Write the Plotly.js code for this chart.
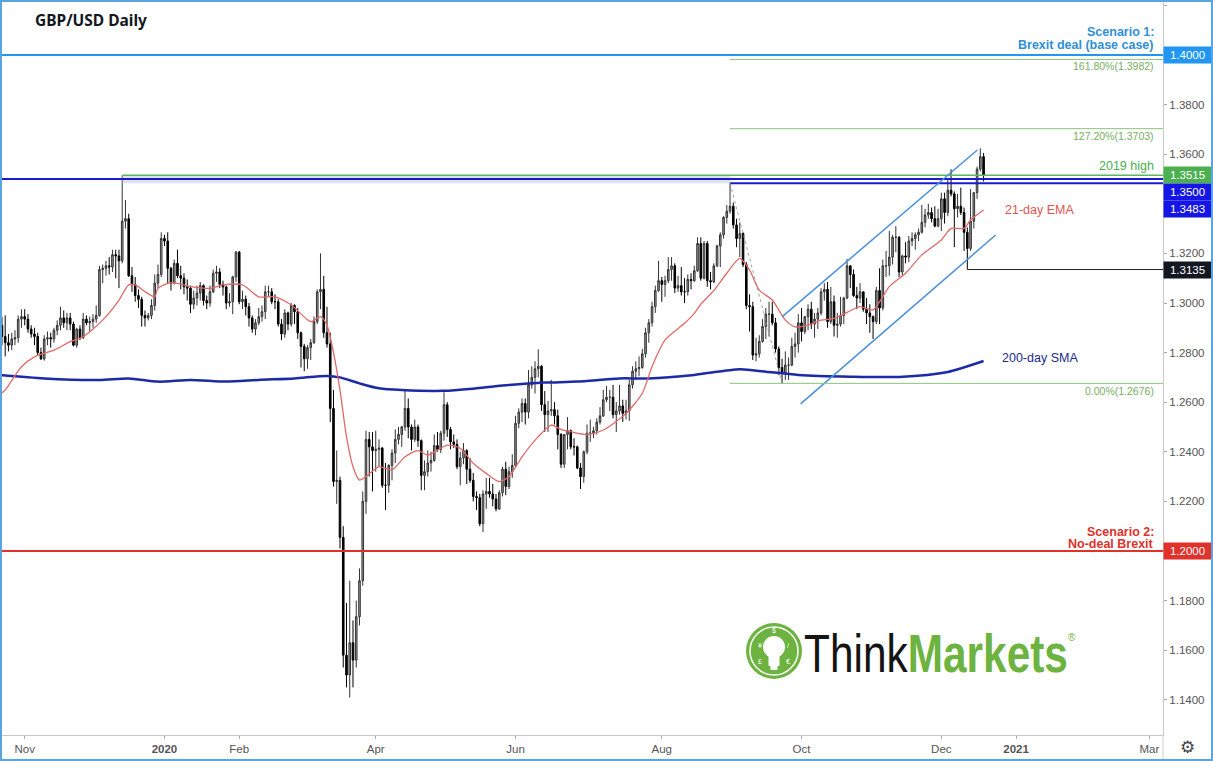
<!DOCTYPE html>
<html><head><meta charset="utf-8">
<script src="https://cdn.plot.ly/plotly-3.0.1.min.js"></script>
<style>
html,body{margin:0;padding:0;background:#fff;overflow:hidden}
#chart{width:1213px;height:761px;position:relative}
#frame{position:absolute;left:0;top:0;width:1213px;height:761px;box-sizing:border-box;border:2px solid #5aa4e0;pointer-events:none}
</style></head><body>
<div id="chart"></div><div id="frame"></div>
<script>
// ---- Daily candles: [day, open, high, low, close] ----
const oct2019=[[23,1.2910,1.2945,1.2830,1.2865],[24,1.2865,1.2950,1.2785,1.2840],[25,1.2840,1.2875,1.2805,1.2830],[28,1.2830,1.2880,1.2810,1.2855],[29,1.2855,1.2890,1.2830,1.2860],[30,1.2860,1.2950,1.2840,1.2935],[31,1.2935,1.2975,1.2900,1.2945]];
const nov2019=[[1,1.2945,1.2975,1.2910,1.2935],[4,1.2935,1.2955,1.2880,1.2895],[5,1.2895,1.2910,1.2860,1.2875],[6,1.2875,1.2900,1.2830,1.2865],[7,1.2865,1.2880,1.2790,1.2800],[8,1.2800,1.2820,1.2770,1.2775],[11,1.2775,1.2870,1.2768,1.2855],[12,1.2855,1.2885,1.2830,1.2860],[13,1.2860,1.2880,1.2820,1.2855],[14,1.2855,1.2900,1.2840,1.2890],[15,1.2890,1.2930,1.2870,1.2910],[18,1.2910,1.2985,1.2890,1.2940],[19,1.2940,1.2970,1.2900,1.2920],[20,1.2920,1.2960,1.2890,1.2940],[21,1.2940,1.2960,1.2890,1.2915],[22,1.2915,1.2925,1.2825,1.2830],[25,1.2830,1.2900,1.2820,1.2895],[26,1.2895,1.2910,1.2850,1.2860],[27,1.2860,1.2960,1.2855,1.2935],[28,1.2935,1.2950,1.2910,1.2920],[29,1.2920,1.2945,1.2885,1.2925]];
const dec2019=[[2,1.2925,1.2955,1.2900,1.2935],[3,1.2935,1.2990,1.2920,1.2950],[4,1.2950,1.3150,1.2945,1.3135],[5,1.3135,1.3155,1.3080,1.3140],[6,1.3140,1.3170,1.3110,1.3150],[9,1.3150,1.3185,1.3115,1.3145],[10,1.3145,1.3215,1.3125,1.3195],[11,1.3195,1.3215,1.3100,1.3190],[12,1.3190,1.3215,1.3060,1.3170],[13,1.3170,1.3515,1.3160,1.3330],[16,1.3330,1.3415,1.3300,1.3340],[17,1.3340,1.3360,1.3105,1.3110],[18,1.3110,1.3145,1.3045,1.3075],[19,1.3075,1.3105,1.3005,1.3030],[20,1.3030,1.3055,1.2980,1.3015],[23,1.3015,1.3025,1.2905,1.2950],[24,1.2950,1.2970,1.2905,1.2940],[25,1.2940,1.2960,1.2930,1.2950],[26,1.2950,1.3015,1.2935,1.2990],[27,1.2990,1.3115,1.2970,1.3080],[30,1.3080,1.3155,1.3060,1.3115],[31,1.3115,1.3285,1.3105,1.3260]];
const jan2020=[[1,1.3260,1.3275,1.3230,1.3250],[2,1.3250,1.3285,1.3080,1.3140],[3,1.3140,1.3145,1.3050,1.3080],[6,1.3080,1.3175,1.3075,1.3160],[7,1.3160,1.3215,1.3100,1.3110],[8,1.3110,1.3150,1.3055,1.3100],[9,1.3100,1.3120,1.3035,1.3065],[10,1.3065,1.3095,1.3010,1.3060],[13,1.3060,1.3070,1.2960,1.2995],[14,1.2995,1.3050,1.2975,1.3020],[15,1.3020,1.3070,1.2990,1.3040],[16,1.3040,1.3085,1.3010,1.3070],[17,1.3070,1.3075,1.2990,1.3010],[20,1.3010,1.3030,1.2975,1.3000],[21,1.3000,1.3070,1.2985,1.3045],[22,1.3045,1.3135,1.3040,1.3120],[23,1.3120,1.3150,1.3085,1.3125],[24,1.3125,1.3140,1.3060,1.3075],[27,1.3075,1.3090,1.3030,1.3065],[28,1.3065,1.3070,1.2975,1.3000],[29,1.3000,1.3040,1.2985,1.3005],[30,1.3005,1.3110,1.2955,1.3105],[31,1.3105,1.3210,1.3085,1.3205]];
const feb2020=[[3,1.3205,1.3210,1.2995,1.3005],[4,1.3005,1.3050,1.2975,1.3015],[5,1.3015,1.3030,1.2950,1.2985],[6,1.2985,1.3000,1.2905,1.2940],[7,1.2940,1.2950,1.2880,1.2895],[10,1.2895,1.2935,1.2870,1.2920],[11,1.2920,1.2980,1.2910,1.2945],[12,1.2945,1.2990,1.2925,1.2965],[13,1.2965,1.3070,1.2935,1.3045],[14,1.3045,1.3070,1.3025,1.3045],[17,1.3045,1.3060,1.2995,1.3005],[18,1.3005,1.3035,1.2975,1.3005],[19,1.3005,1.3015,1.2905,1.2915],[20,1.2915,1.2935,1.2850,1.2875],[21,1.2875,1.2975,1.2860,1.2960],[24,1.2960,1.2965,1.2890,1.2915],[25,1.2915,1.3000,1.2905,1.2990],[26,1.2990,1.2995,1.2915,1.2965],[27,1.2965,1.2980,1.2855,1.2880],[28,1.2880,1.2885,1.2740,1.2825]];
const mar2020=[[2,1.2825,1.2835,1.2725,1.2775],[3,1.2775,1.2830,1.2735,1.2820],[4,1.2820,1.2855,1.2770,1.2840],[5,1.2840,1.2945,1.2835,1.2925],[6,1.2925,1.3055,1.2915,1.3045],[9,1.3045,1.3200,1.2975,1.3055],[10,1.3055,1.3110,1.2860,1.2880],[11,1.2880,1.2985,1.2820,1.2835],[12,1.2835,1.2880,1.2520,1.2575],[13,1.2575,1.2650,1.2260,1.2280],[16,1.2280,1.2405,1.2190,1.2285],[17,1.2285,1.2300,1.2010,1.2055],[18,1.2055,1.2100,1.1530,1.1580],[19,1.1580,1.1790,1.1450,1.1500],[20,1.1500,1.1880,1.1409,1.1630],[23,1.1630,1.1720,1.1450,1.1560],[24,1.1560,1.1800,1.1530,1.1735],[25,1.1735,1.1930,1.1700,1.1880],[26,1.1880,1.2240,1.1860,1.2200],[27,1.2200,1.2485,1.2150,1.2450],[30,1.2450,1.2480,1.2300,1.2420],[31,1.2420,1.2480,1.2240,1.2405]];
const apr2020=[[1,1.2405,1.2485,1.2320,1.2410],[2,1.2410,1.2450,1.2340,1.2415],[3,1.2415,1.2420,1.2255,1.2265],[6,1.2265,1.2355,1.2165,1.2265],[7,1.2265,1.2350,1.2235,1.2345],[8,1.2345,1.2410,1.2285,1.2395],[9,1.2395,1.2490,1.2355,1.2450],[10,1.2450,1.2500,1.2430,1.2470],[13,1.2470,1.2505,1.2420,1.2500],[14,1.2500,1.2650,1.2485,1.2575],[15,1.2575,1.2615,1.2455,1.2500],[16,1.2500,1.2510,1.2405,1.2450],[17,1.2450,1.2530,1.2440,1.2500],[20,1.2500,1.2510,1.2420,1.2445],[21,1.2445,1.2450,1.2245,1.2305],[22,1.2305,1.2365,1.2245,1.2320],[23,1.2320,1.2405,1.2300,1.2355],[24,1.2355,1.2400,1.2320,1.2365],[27,1.2365,1.2470,1.2360,1.2425],[28,1.2425,1.2480,1.2400,1.2410],[29,1.2410,1.2485,1.2395,1.2475],[30,1.2475,1.2640,1.2445,1.2590]];
const may2020=[[1,1.2590,1.2600,1.2460,1.2490],[4,1.2490,1.2500,1.2410,1.2440],[5,1.2440,1.2470,1.2415,1.2430],[6,1.2430,1.2450,1.2330,1.2340],[7,1.2340,1.2400,1.2265,1.2375],[8,1.2375,1.2435,1.2350,1.2405],[11,1.2405,1.2410,1.2270,1.2330],[12,1.2330,1.2375,1.2275,1.2285],[13,1.2285,1.2315,1.2200,1.2220],[14,1.2220,1.2240,1.2165,1.2215],[15,1.2215,1.2230,1.2100,1.2110],[18,1.2110,1.2245,1.2076,1.2230],[19,1.2230,1.2295,1.2170,1.2240],[20,1.2240,1.2295,1.2215,1.2230],[21,1.2230,1.2270,1.2180,1.2210],[22,1.2210,1.2230,1.2160,1.2170],[25,1.2170,1.2245,1.2165,1.2235],[26,1.2235,1.2340,1.2220,1.2330],[27,1.2330,1.2360,1.2225,1.2260],[28,1.2260,1.2340,1.2250,1.2320],[29,1.2320,1.2390,1.2295,1.2345]];
const jun2020=[[1,1.2345,1.2545,1.2340,1.2515],[2,1.2515,1.2575,1.2495,1.2560],[3,1.2560,1.2615,1.2520,1.2595],[4,1.2595,1.2615,1.2510,1.2560],[5,1.2560,1.2730,1.2535,1.2670],[8,1.2670,1.2745,1.2655,1.2700],[9,1.2700,1.2765,1.2635,1.2735],[10,1.2735,1.2813,1.2700,1.2745],[11,1.2745,1.2750,1.2565,1.2590],[12,1.2590,1.2645,1.2480,1.2550],[15,1.2550,1.2605,1.2480,1.2565],[16,1.2565,1.2690,1.2545,1.2570],[17,1.2570,1.2600,1.2510,1.2545],[18,1.2545,1.2570,1.2410,1.2470],[19,1.2470,1.2475,1.2335,1.2350],[22,1.2350,1.2470,1.2335,1.2470],[23,1.2470,1.2540,1.2410,1.2485],[24,1.2485,1.2490,1.2410,1.2420],[25,1.2420,1.2455,1.2385,1.2420],[26,1.2420,1.2425,1.2330,1.2335],[29,1.2335,1.2355,1.2250,1.2300],[30,1.2300,1.2405,1.2275,1.2400]];
const jul2020=[[1,1.2400,1.2510,1.2390,1.2475],[2,1.2475,1.2530,1.2440,1.2475],[3,1.2475,1.2500,1.2455,1.2485],[6,1.2485,1.2535,1.2470,1.2520],[7,1.2520,1.2580,1.2510,1.2545],[8,1.2545,1.2650,1.2540,1.2610],[9,1.2610,1.2665,1.2600,1.2620],[10,1.2620,1.2650,1.2565,1.2620],[13,1.2620,1.2670,1.2535,1.2550],[14,1.2550,1.2600,1.2480,1.2565],[15,1.2565,1.2670,1.2550,1.2585],[16,1.2585,1.2610,1.2520,1.2555],[17,1.2555,1.2610,1.2530,1.2565],[20,1.2565,1.2690,1.2525,1.2670],[21,1.2670,1.2745,1.2655,1.2725],[22,1.2725,1.2765,1.2690,1.2735],[23,1.2735,1.2785,1.2705,1.2740],[24,1.2740,1.2815,1.2735,1.2795],[27,1.2795,1.2900,1.2780,1.2880],[28,1.2880,1.2935,1.2840,1.2920],[29,1.2920,1.3005,1.2905,1.2985],[30,1.2985,1.3070,1.2960,1.3050],[31,1.3050,1.3170,1.3045,1.3090]];
const aug2020=[[3,1.3090,1.3105,1.3005,1.3075],[4,1.3075,1.3110,1.3025,1.3090],[5,1.3090,1.3185,1.3080,1.3135],[6,1.3135,1.3185,1.3090,1.3150],[7,1.3150,1.3160,1.3040,1.3060],[10,1.3060,1.3110,1.3045,1.3070],[11,1.3070,1.3145,1.3030,1.3045],[12,1.3045,1.3100,1.3000,1.3045],[13,1.3045,1.3115,1.3030,1.3095],[14,1.3095,1.3120,1.3055,1.3090],[17,1.3090,1.3150,1.3085,1.3130],[18,1.3130,1.3265,1.3125,1.3240],[19,1.3240,1.3265,1.3090,1.3100],[20,1.3100,1.3250,1.3095,1.3240],[21,1.3240,1.3250,1.3065,1.3090],[24,1.3090,1.3125,1.3055,1.3085],[25,1.3085,1.3160,1.3080,1.3150],[26,1.3150,1.3235,1.3145,1.3230],[27,1.3230,1.3285,1.3145,1.3275],[28,1.3275,1.3350,1.3260,1.3345],[31,1.3345,1.3395,1.3320,1.3370]];
const sep2020=[[1,1.3370,1.3483,1.3360,1.3390],[2,1.3390,1.3405,1.3300,1.3315],[3,1.3315,1.3340,1.3225,1.3260],[4,1.3260,1.3325,1.3185,1.3280],[7,1.3280,1.3285,1.3145,1.3155],[8,1.3155,1.3165,1.2975,1.2990],[9,1.2990,1.3035,1.2885,1.2985],[10,1.2985,1.3005,1.2770,1.2790],[11,1.2790,1.2860,1.2765,1.2795],[14,1.2795,1.2870,1.2780,1.2845],[15,1.2845,1.2935,1.2840,1.2905],[16,1.2905,1.2980,1.2855,1.2955],[17,1.2955,1.3005,1.2865,1.2955],[18,1.2955,1.3005,1.2910,1.2920],[21,1.2920,1.2940,1.2800,1.2815],[22,1.2815,1.2825,1.2710,1.2740],[23,1.2740,1.2775,1.2676,1.2720],[24,1.2720,1.2805,1.2690,1.2750],[25,1.2750,1.2780,1.2690,1.2750],[28,1.2750,1.2860,1.2745,1.2825],[29,1.2825,1.2880,1.2780,1.2835],[30,1.2835,1.2955,1.2800,1.2920]];
const oct2020=[[1,1.2920,1.2980,1.2845,1.2885],[2,1.2885,1.2945,1.2875,1.2945],[5,1.2945,1.2995,1.2890,1.2975],[6,1.2975,1.3005,1.2895,1.2915],[7,1.2915,1.2960,1.2860,1.2935],[8,1.2935,1.2980,1.2895,1.2960],[9,1.2960,1.3060,1.2950,1.3045],[12,1.3045,1.3080,1.3010,1.3055],[13,1.3055,1.3085,1.2900,1.2925],[14,1.2925,1.3065,1.2915,1.3005],[15,1.3005,1.3030,1.2865,1.2910],[16,1.2910,1.2960,1.2860,1.2915],[19,1.2915,1.3025,1.2905,1.2950],[20,1.2950,1.3025,1.2915,1.3020],[21,1.3020,1.3177,1.3015,1.3150],[22,1.3150,1.3150,1.3060,1.3115],[23,1.3115,1.3135,1.3025,1.3030],[26,1.3030,1.3065,1.2975,1.3020],[27,1.3020,1.3080,1.3000,1.3045],[28,1.3045,1.3045,1.2965,1.2975],[29,1.2975,1.3020,1.2915,1.2960],[30,1.2960,1.2995,1.2880,1.2945]];
const nov2020=[[2,1.2945,1.2950,1.2855,1.2925],[3,1.2925,1.3065,1.2915,1.3050],[4,1.3050,1.3140,1.2915,1.2980],[5,1.2980,1.3175,1.2970,1.3150],[6,1.3150,1.3210,1.3105,1.3150],[9,1.3150,1.3290,1.3110,1.3185],[10,1.3185,1.3275,1.3155,1.3265],[11,1.3265,1.3310,1.3205,1.3265],[12,1.3265,1.3270,1.3105,1.3125],[13,1.3125,1.3195,1.3110,1.3190],[16,1.3190,1.3245,1.3160,1.3185],[17,1.3185,1.3270,1.3165,1.3250],[18,1.3250,1.3285,1.3230,1.3260],[19,1.3260,1.3285,1.3215,1.3275],[20,1.3275,1.3300,1.3250,1.3285],[23,1.3285,1.3395,1.3280,1.3325],[24,1.3325,1.3380,1.3305,1.3355],[25,1.3355,1.3400,1.3340,1.3365],[26,1.3365,1.3385,1.3325,1.3340],[27,1.3340,1.3390,1.3305,1.3310],[30,1.3310,1.3380,1.3305,1.3340]];
const dec2020=[[1,1.3340,1.3445,1.3290,1.3420],[2,1.3420,1.3445,1.3320,1.3365],[3,1.3365,1.3500,1.3350,1.3455],[4,1.3455,1.3539,1.3430,1.3440],[7,1.3440,1.3450,1.3225,1.3380],[8,1.3380,1.3440,1.3345,1.3390],[9,1.3390,1.3465,1.3355,1.3365],[10,1.3365,1.3385,1.3210,1.3285],[11,1.3285,1.3305,1.3135,1.3220],[14,1.3220,1.3460,1.3210,1.3330],[15,1.3330,1.3445,1.3300,1.3445],[16,1.3445,1.3550,1.3420,1.3540],[17,1.3540,1.3624,1.3530,1.3590],[18,1.3590,1.3605,1.3490,1.3515]];

// ---- 21-day EMA ----
const emaDates=['2019-10-22','2019-10-24','2019-10-31','2019-11-06','2019-11-14','2019-11-21','2019-11-27','2019-12-05','2019-12-12','2019-12-17','2019-12-19','2019-12-24','2019-12-27','2019-12-30','2020-01-03','2020-01-13','2020-01-21','2020-01-27','2020-02-04','2020-02-11','2020-02-18','2020-02-25','2020-03-04','2020-03-09','2020-03-11','2020-03-13','2020-03-17','2020-03-19','2020-03-23','2020-03-25','2020-03-27','2020-04-02','2020-04-08','2020-04-14','2020-04-20','2020-04-23','2020-05-01','2020-05-07','2020-05-13','2020-05-19','2020-05-25','2020-05-28','2020-06-03','2020-06-10','2020-06-16','2020-06-19','2020-06-24','2020-07-01','2020-07-08','2020-07-17','2020-07-24','2020-07-29','2020-08-04','2020-08-12','2020-08-17','2020-08-19','2020-08-25','2020-08-31','2020-09-04','2020-09-09','2020-09-14','2020-09-18','2020-09-24','2020-09-29','2020-10-05','2020-10-09','2020-10-15','2020-10-21','2020-10-27','2020-11-02','2020-11-09','2020-11-16','2020-11-23','2020-12-01','2020-12-04','2020-12-10','2020-12-14','2020-12-18'];
const emaValues=[1.2628,1.2649,1.2743,1.2783,1.2810,1.2844,1.2864,1.2931,1.3012,1.3073,1.3073,1.3046,1.3025,1.3059,1.3082,1.3066,1.3059,1.3073,1.3073,1.3025,1.3025,1.2992,1.2925,1.2945,1.2910,1.2800,1.2649,1.2461,1.2340,1.2286,1.2300,1.2340,1.2327,1.2380,1.2405,1.2387,1.2427,1.2414,1.2354,1.2313,1.2280,1.2300,1.2380,1.2461,1.2508,1.2490,1.2481,1.2470,1.2488,1.2555,1.2636,1.2743,1.2851,1.2918,1.2958,1.2995,1.3050,1.3120,1.3180,1.3133,1.3052,1.3012,1.2931,1.2904,1.2911,1.2931,1.2938,1.2962,1.2985,1.2972,1.3066,1.3120,1.3194,1.3254,1.3301,1.3301,1.3335,1.3375];

// ---- 200-day SMA ----
const smaDates=['2019-10-22','2019-11-11','2019-12-04','2019-12-17','2019-12-30','2020-01-13','2020-01-28','2020-02-11','2020-02-26','2020-03-11','2020-03-17','2020-03-25','2020-04-02','2020-04-13','2020-04-30','2020-05-14','2020-05-28','2020-06-12','2020-06-26','2020-07-15','2020-07-28','2020-08-17','2020-09-04','2020-09-16','2020-09-30','2020-10-22','2020-11-12','2020-12-03','2020-12-18'];
const smaValues=[1.2710,1.2696,1.2690,1.2696,1.2683,1.2690,1.2683,1.2690,1.2696,1.2706,1.2700,1.2676,1.2656,1.2649,1.2646,1.2656,1.2669,1.2679,1.2683,1.2696,1.2696,1.2710,1.2733,1.2723,1.2710,1.2703,1.2702,1.2722,1.2766];

// ---- Levels and drawings ----
const scenarioDeal=1.4000, scenarioNoDeal=1.2000, level1350=1.3500, level1483=1.3483, high2019=1.3515, low1135=1.3135;
const fibLevels=[1.3982,1.3703,1.2676];
const fibLabels=['161.80%(1.3982)','127.20%(1.3703)','0.00%(1.2676)'];
const fibStart='2020-09-01 12:00', high2019Start='2019-12-13 12:00', lowStart='2020-12-11 12:00';
const fibTrendX=['2020-09-01 12:00','2020-09-23 12:00'], fibTrendY=[1.3483,1.2676];
const chanUpperX=['2020-09-23 14:00','2020-12-16 14:00'], chanUpperY=[1.2945,1.3617];
const chanLowerX=['2020-10-01 04:48','2020-12-24 04:48'], chanLowerY=[1.2593,1.3274];
const xTickVals=['2019-11-01','2020-01-01','2020-02-03','2020-04-01','2020-06-01','2020-08-03','2020-10-01','2020-12-01','2021-01-01','2021-03-01'];
const xTickText=['Nov','<b>2020</b>','Feb','Apr','Jun','Aug','Oct','Dec','<b>2021</b>','Mar'];
const yTickVals=[1.42,1.38,1.36,1.32,1.30,1.28,1.26,1.24,1.22,1.18,1.16,1.14];

// ---- build ----
const months=[['2019-10',oct2019],['2019-11',nov2019],['2019-12',dec2019],['2020-01',jan2020],['2020-02',feb2020],['2020-03',mar2020],['2020-04',apr2020],['2020-05',may2020],['2020-06',jun2020],['2020-07',jul2020],['2020-08',aug2020],['2020-09',sep2020],['2020-10',oct2020],['2020-11',nov2020],['2020-12',dec2020]];
const dates=[],open=[],high=[],low=[],close=[];
months.forEach(([ym,rows])=>rows.forEach(r=>{dates.push(ym+'-'+String(r[0]).padStart(2,'0')+' 12:00');open.push(r[1]);high.push(r[2]);low.push(r[3]);close.push(r[4]);}));
const noon=d=>d+' 12:00';

const W=1213,H=761,ML=0,MR=50,MT=0,MB=26;
const PW=W-ML-MR, PH=H-MT-MB;
const Y0=55, PPU=2480; // pixel row of 1.4000 and pixels per 1.0 of price
const yMin=1.4-(PH-Y0)/PPU, yMax=1.4+Y0/PPU;
const xStart='2019-10-22 21:36', xEnd='2021-03-05 16:48';
const px=x=>x/PW, py=y=>(PH-y)/PH;

const traces=[
 {type:'scatter',mode:'lines',x:smaDates.map(noon),y:smaValues,line:{color:'#1c2aa8',width:2.5,shape:'spline',smoothing:0.7},hoverinfo:'skip'},
 {type:'scatter',mode:'lines',x:emaDates.map(noon),y:emaValues,line:{color:'#e06a68',width:1.3,shape:'spline',smoothing:0.7},hoverinfo:'skip'},
 {type:'candlestick',x:dates,open:open,high:high,low:low,close:close,
  increasing:{line:{color:'#333333',width:1},fillcolor:'#9c9c9c'},
  decreasing:{line:{color:'#000000',width:1},fillcolor:'#000000'},
  whiskerwidth:0,hoverinfo:'skip'}
];

const shapes=[
 {type:'rect',xref:'x',yref:'y',x0:high2019Start,x1:fibStart,y0:level1483,y1:high2019,fillcolor:'rgba(185,190,220,0.45)',line:{width:0}},
 {type:'line',xref:'paper',yref:'y',x0:0,x1:1,y0:scenarioDeal,y1:scenarioDeal,line:{color:'#2196f3',width:2}},
 {type:'line',xref:'paper',yref:'y',x0:0,x1:1,y0:scenarioNoDeal,y1:scenarioNoDeal,line:{color:'#e0312b',width:2}},
 {type:'line',xref:'paper',yref:'y',x0:0,x1:1,y0:level1350,y1:level1350,line:{color:'#1a1ad0',width:2}},
 {type:'line',xref:'x',yref:'y',x0:fibStart,x1:xEnd,y0:level1483,y1:level1483,line:{color:'#1a1ad0',width:2}},
 {type:'line',xref:'x',yref:'y',x0:high2019Start,x1:xEnd,y0:high2019,y1:high2019,line:{color:'#5cb860',width:1.5}},
 {type:'line',xref:'x',yref:'y',x0:lowStart,x1:xEnd,y0:low1135,y1:low1135,line:{color:'#222',width:1}},
 {type:'line',xref:'x',yref:'y',x0:fibTrendX[0],x1:fibTrendX[1],y0:fibTrendY[0],y1:fibTrendY[1],line:{color:'rgba(140,140,140,0.8)',width:1,dash:'dot'}},
 {type:'line',xref:'x',yref:'y',x0:chanUpperX[0],x1:chanUpperX[1],y0:chanUpperY[0],y1:chanUpperY[1],line:{color:'#4a8fdb',width:1.5}},
 {type:'line',xref:'x',yref:'y',x0:chanLowerX[0],x1:chanLowerX[1],y0:chanLowerY[0],y1:chanLowerY[1],line:{color:'#4a8fdb',width:1.5}},
 {type:'line',xref:'paper',yref:'paper',x0:1,x1:1,y0:0,y1:py(H),line:{color:'#d0d0d0',width:1}},
 // logo
 {type:'circle',xref:'paper',yref:'paper',x0:px(746),x1:px(802),y0:py(679),y1:py(623),fillcolor:'#6db33f',line:{width:0}},
 {type:'circle',xref:'paper',yref:'paper',x0:px(750),x1:px(798),y0:py(675),y1:py(627),fillcolor:'rgba(0,0,0,0)',line:{color:'#ffffff',width:1.5}},
 {type:'circle',xref:'paper',yref:'paper',x0:px(763),x1:px(785),y0:py(658),y1:py(636),fillcolor:'#ffffff',line:{width:0}},
 {type:'rect',xref:'paper',yref:'paper',x0:px(768.5),x1:px(779.5),y0:py(666),y1:py(652),fillcolor:'#ffffff',line:{width:0}},
 {type:'rect',xref:'paper',yref:'paper',x0:px(770.5),x1:px(777.5),y0:py(670),y1:py(666),fillcolor:'#ffffff',line:{width:0}}
];
fibLevels.forEach(v=>shapes.push({type:'line',xref:'x',yref:'y',x0:fibStart,x1:xEnd,y0:v,y1:v,line:{color:'#8cc47a',width:1}}));

const FONT='Liberation Sans, Arial, sans-serif';
const ann=[];
const yAt=p=>1.4-(p-Y0)/PPU; // price at a pixel row
function rightText(text,yPix,size,color,bold){ann.push({xref:'paper',x:1,xshift:-7,xanchor:'right',yref:'y',y:yAt(yPix),yanchor:'middle',showarrow:false,text:bold?'<b>'+text+'</b>':text,font:{family:FONT,size:size,color:color}});}
function leftText(text,xPix,yPix,size,color){ann.push({xref:'paper',x:px(xPix),xanchor:'left',yref:'y',y:yAt(yPix),yanchor:'middle',showarrow:false,text:text,font:{family:FONT,size:size,color:color}});}
function axisBox(text,price,shift,bg){ann.push({xref:'paper',x:1,xanchor:'left',xshift:0,yref:'y',y:price,yshift:shift,yanchor:'middle',showarrow:false,text:text,bgcolor:bg,width:47,height:16,borderpad:0,align:'center',font:{family:FONT,size:11.5,color:'#ffffff'}});}

ann.push({xref:'paper',x:px(33),xanchor:'left',yref:'paper',y:py(20.5),yanchor:'middle',showarrow:false,text:'<b>GBP/USD Daily</b>',font:{family:'Noto Sans, sans-serif',size:15.5,color:'#131722'}});
rightText('Scenario 1:',32,12.5,'#2f8fd8',true);
rightText('Brexit deal (base case)',45,12.5,'#2f8fd8',true);
rightText(fibLabels[0],66,10.5,'#79ad63',false);
rightText(fibLabels[1],136,10.5,'#79ad63',false);
rightText('2019 high',166,12.5,'#4caf50',false);
rightText(fibLabels[2],391,10.5,'#79ad63',false);
rightText('Scenario 2:',532,12.5,'#e0312b',true);
rightText('No-deal Brexit',544,12.5,'#e0312b',true);
leftText('21-day EMA',1003,210,12.5,'#e5534f');
leftText('200-day SMA',1000,358,12.5,'#1c2a8a');

axisBox('1.4000',scenarioDeal,0,'#2196f3');
axisBox('1.3515',high2019,0,'#4caf50');
axisBox('1.3500',level1350,-13,'#1515e6');
axisBox('1.3483',level1483,-26,'#1515e6');
axisBox('1.3135',low1135,0,'#131722');
axisBox('1.2000',scenarioNoDeal,0,'#e0312b');

// logo text
ann.push({xref:'paper',x:px(802),xanchor:'left',yref:'paper',y:py(653),yanchor:'middle',showarrow:false,
 text:'Think<b><span style="color:#6db33f">Markets</span></b>',font:{family:'Liberation Sans, Arial, sans-serif',size:53,color:'#141414'}});
ann.push({xref:'paper',x:px(1072),xanchor:'center',yref:'paper',y:py(637),yanchor:'middle',showarrow:false,text:'®',font:{family:FONT,size:10,color:'#6db33f'}});
[['$',774,630],['¥',760,645],['£',760,661],['€',788,661],['/',788,645]].forEach(s=>ann.push({xref:'paper',x:px(s[1]),yref:'paper',y:py(s[2]),xanchor:'center',yanchor:'middle',showarrow:false,text:s[0],font:{family:FONT,size:7,color:'#ffffff'}}));
// settings icon
ann.push({xref:'paper',x:px(1187),xanchor:'center',yref:'paper',y:py(747),yanchor:'middle',showarrow:false,text:'⚙',font:{family:'DejaVu Sans, sans-serif',size:17,color:'#444'}});

const layout={
 width:W,height:H,margin:{l:ML,r:MR,t:MT,b:MB,pad:0},
 paper_bgcolor:'#ffffff',plot_bgcolor:'#ffffff',showlegend:false,hovermode:false,
 xaxis:{type:'date',range:[xStart,xEnd],rangebreaks:[{bounds:['sat','mon']}],rangeslider:{visible:false},
  tickvals:xTickVals.map(noon),ticktext:xTickText,tickfont:{family:FONT,size:11.5,color:'#555'},
  showgrid:false,zeroline:false,showline:true,linecolor:'#c8c8c8',linewidth:1,ticks:'outside',ticklen:3,tickcolor:'#aaa'},
 yaxis:{side:'right',range:[yMin,yMax],tickvals:yTickVals,tickformat:'.4f',tickfont:{family:FONT,size:11.5,color:'#555'},
  showgrid:false,zeroline:false,showline:true,linecolor:'#c8c8c8',linewidth:1,ticks:'outside',ticklen:3,tickcolor:'#aaa'},
 shapes:shapes,annotations:ann
};
Plotly.newPlot('chart',traces,layout,{staticPlot:true,displayModeBar:false}).then(gd=>{
 // condense the logo word mark horizontally (narrow logotype), keeping its left edge fixed
 gd.querySelectorAll('text.annotation-text').forEach(t=>{
  if(t.textContent.indexOf('ThinkMarkets')===0){
   const b=t.getBBox(), a=0.8, prev=t.getAttribute('transform')||'';
   t.setAttribute('transform',(prev+' matrix('+a+',0,0,1,'+(b.x*(1-a))+',0)').trim());
  }
 });
});
</script>
</body></html>
